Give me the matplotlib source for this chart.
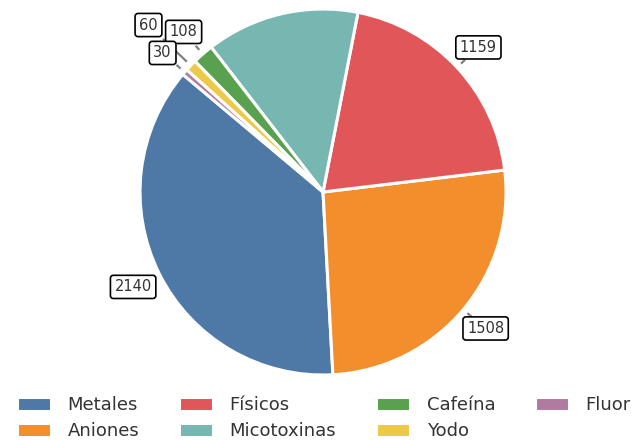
import numpy as np
import matplotlib
matplotlib.use("Agg")
import matplotlib.pyplot as plt

categories = ["Metales", "Aniones", "Físicos", "Micotoxinas", "Cafeína", "Yodo", "Fluor"]
values = [2140, 1508, 1159, 783, 108, 60, 30]
colors = ["#4e79a7", "#f28e2b", "#e15759", "#76b7b2", "#59a14f", "#edc948", "#b07aa1"]
# which wedges carry a value label, and how far out the label sits
label_shown = [True, True, True, False, True, True, True]
label_radius = [1.16, 1.16, 1.16, 1.16, 1.16, 1.32, 1.16]

fig = plt.figure(figsize=(6.32, 4.4), dpi=100)
ax = fig.add_axes([0.1926, 0.1061, 0.637, 0.915])

wedges, _ = ax.pie(values, colors=colors, startangle=140, counterclock=True,
                   radius=1.0, wedgeprops=dict(edgecolor="white", linewidth=2.2))
ax.set_xlim(-1.1, 1.1)
ax.set_ylim(-1.1, 1.1)
ax.set_aspect("equal")
ax.axis("off")

for w, v, show, r in zip(wedges, values, label_shown, label_radius):
    if not show:
        continue
    ang = np.deg2rad((w.theta1 + w.theta2) / 2)
    c, s = np.cos(ang), np.sin(ang)
    r_end = 1.06 if r < 1.2 else 1.21
    ax.plot([1.03 * c, r_end * c], [1.03 * s, r_end * s], color="#808080",
            lw=1.6, solid_capstyle="butt", clip_on=False)
    ax.text(r * c, r * s, str(v), ha="center", va="center", fontsize=10.5,
            color="#333333",
            bbox=dict(boxstyle="round,pad=0.28,rounding_size=0.2",
                      fc="white", ec="black", lw=1.2))

fig.legend(wedges, categories, loc="upper left", bbox_to_anchor=(0.027, 0.1),
           ncol=4, frameon=False, fontsize=13, handlelength=1.9,
           handleheight=0.8, handletextpad=0.9, columnspacing=2.2,
           labelspacing=0.45, borderaxespad=0, borderpad=0)
for t in fig.legends[0].get_texts():
    t.set_color("#333333")

fig.savefig("out.png", dpi=100)
